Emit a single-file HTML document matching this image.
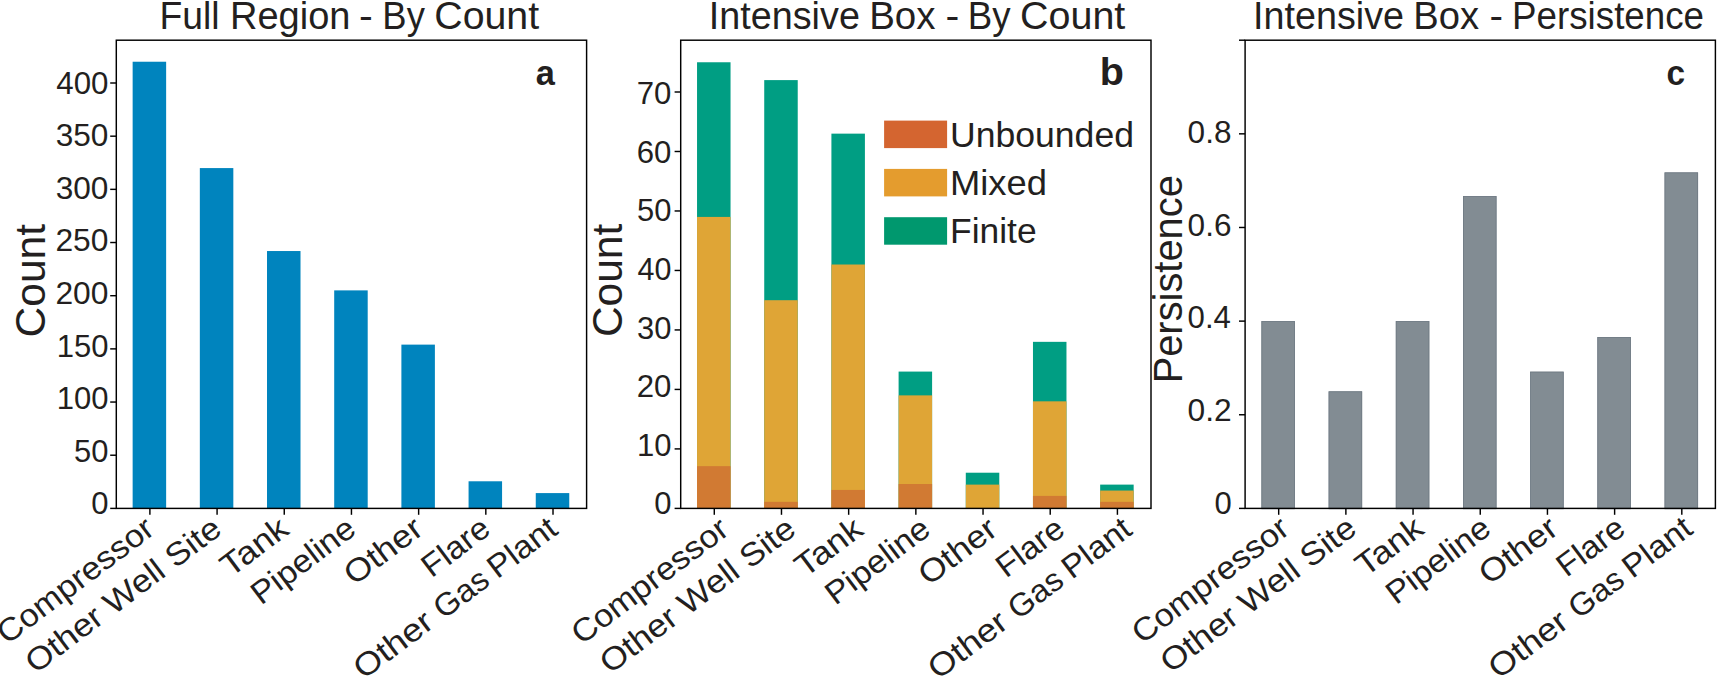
<!DOCTYPE html>
<html><head><meta charset="utf-8"><title>Figure</title>
<style>
html,body{margin:0;padding:0;background:#fff;}
body{width:1723px;height:677px;overflow:hidden;}
svg{display:block;}
svg text{font-family:"Liberation Sans", sans-serif;fill:#231f20;}
</style></head><body>
<svg width="1723" height="677" viewBox="0 0 1723 677">
<rect x="132.64" y="61.73" width="33.50" height="446.67" fill="#0084be"/>
<rect x="199.83" y="168.08" width="33.50" height="340.32" fill="#0084be"/>
<rect x="267.01" y="251.03" width="33.50" height="257.37" fill="#0084be"/>
<rect x="334.20" y="290.38" width="33.50" height="218.02" fill="#0084be"/>
<rect x="401.39" y="344.62" width="33.50" height="163.78" fill="#0084be"/>
<rect x="468.57" y="481.28" width="33.50" height="27.12" fill="#0084be"/>
<rect x="535.76" y="493.09" width="33.50" height="15.31" fill="#0084be"/>
<rect x="697.04" y="62.26" width="33.50" height="446.14" fill="#009e83"/>
<rect x="697.04" y="216.92" width="33.50" height="291.48" fill="#dfa536"/>
<rect x="697.04" y="466.16" width="33.50" height="42.24" fill="#d17a33"/>
<rect x="764.23" y="80.10" width="33.50" height="428.30" fill="#009e83"/>
<rect x="764.23" y="300.20" width="33.50" height="208.20" fill="#dfa536"/>
<rect x="764.23" y="501.85" width="33.50" height="6.55" fill="#d17a33"/>
<rect x="831.41" y="133.64" width="33.50" height="374.76" fill="#009e83"/>
<rect x="831.41" y="264.51" width="33.50" height="243.89" fill="#dfa536"/>
<rect x="831.41" y="489.95" width="33.50" height="18.45" fill="#d17a33"/>
<rect x="898.60" y="371.58" width="33.50" height="136.82" fill="#009e83"/>
<rect x="898.60" y="395.38" width="33.50" height="113.02" fill="#dfa536"/>
<rect x="898.60" y="484.01" width="33.50" height="24.39" fill="#d17a33"/>
<rect x="965.79" y="472.71" width="33.50" height="35.69" fill="#009e83"/>
<rect x="965.79" y="484.61" width="33.50" height="23.79" fill="#dfa536"/>
<rect x="1032.97" y="341.84" width="33.50" height="166.56" fill="#009e83"/>
<rect x="1032.97" y="401.33" width="33.50" height="107.07" fill="#dfa536"/>
<rect x="1032.97" y="495.90" width="33.50" height="12.50" fill="#d17a33"/>
<rect x="1100.16" y="484.61" width="33.50" height="23.79" fill="#009e83"/>
<rect x="1100.16" y="490.55" width="33.50" height="17.85" fill="#dfa536"/>
<rect x="1100.16" y="501.85" width="33.50" height="6.55" fill="#d17a33"/>
<rect x="1261.44" y="321.12" width="33.50" height="187.28" fill="#828c93"/>
<rect x="1261.84" y="321.52" width="32.70" height="187.28" fill="none" stroke="#6f7a84" stroke-width="0.8"/>
<rect x="1328.63" y="391.35" width="33.50" height="117.05" fill="#828c93"/>
<rect x="1329.03" y="391.75" width="32.70" height="117.05" fill="none" stroke="#6f7a84" stroke-width="0.8"/>
<rect x="1395.81" y="321.12" width="33.50" height="187.28" fill="#828c93"/>
<rect x="1396.21" y="321.52" width="32.70" height="187.28" fill="none" stroke="#6f7a84" stroke-width="0.8"/>
<rect x="1463.00" y="196.11" width="33.50" height="312.29" fill="#828c93"/>
<rect x="1463.40" y="196.51" width="32.70" height="312.29" fill="none" stroke="#6f7a84" stroke-width="0.8"/>
<rect x="1530.19" y="371.69" width="33.50" height="136.71" fill="#828c93"/>
<rect x="1530.59" y="372.09" width="32.70" height="136.71" fill="none" stroke="#6f7a84" stroke-width="0.8"/>
<rect x="1597.37" y="337.04" width="33.50" height="171.36" fill="#828c93"/>
<rect x="1597.77" y="337.44" width="32.70" height="171.36" fill="none" stroke="#6f7a84" stroke-width="0.8"/>
<rect x="1664.56" y="172.42" width="33.50" height="335.98" fill="#828c93"/>
<rect x="1664.96" y="172.82" width="32.70" height="335.98" fill="none" stroke="#6f7a84" stroke-width="0.8"/>
<rect x="116.30" y="40.20" width="470.30" height="468.20" fill="none" stroke="#000" stroke-width="1.45"/>
<line x1="149.89" y1="508.40" x2="149.89" y2="514.80" stroke="#000" stroke-width="1.45"/>
<line x1="217.08" y1="508.40" x2="217.08" y2="514.80" stroke="#000" stroke-width="1.45"/>
<line x1="284.26" y1="508.40" x2="284.26" y2="514.80" stroke="#000" stroke-width="1.45"/>
<line x1="351.45" y1="508.40" x2="351.45" y2="514.80" stroke="#000" stroke-width="1.45"/>
<line x1="418.64" y1="508.40" x2="418.64" y2="514.80" stroke="#000" stroke-width="1.45"/>
<line x1="485.82" y1="508.40" x2="485.82" y2="514.80" stroke="#000" stroke-width="1.45"/>
<line x1="553.01" y1="508.40" x2="553.01" y2="514.80" stroke="#000" stroke-width="1.45"/>
<rect x="680.70" y="40.20" width="470.30" height="468.20" fill="none" stroke="#000" stroke-width="1.45"/>
<line x1="714.29" y1="508.40" x2="714.29" y2="514.80" stroke="#000" stroke-width="1.45"/>
<line x1="781.48" y1="508.40" x2="781.48" y2="514.80" stroke="#000" stroke-width="1.45"/>
<line x1="848.66" y1="508.40" x2="848.66" y2="514.80" stroke="#000" stroke-width="1.45"/>
<line x1="915.85" y1="508.40" x2="915.85" y2="514.80" stroke="#000" stroke-width="1.45"/>
<line x1="983.04" y1="508.40" x2="983.04" y2="514.80" stroke="#000" stroke-width="1.45"/>
<line x1="1050.22" y1="508.40" x2="1050.22" y2="514.80" stroke="#000" stroke-width="1.45"/>
<line x1="1117.41" y1="508.40" x2="1117.41" y2="514.80" stroke="#000" stroke-width="1.45"/>
<rect x="1245.10" y="40.20" width="470.30" height="468.20" fill="none" stroke="#000" stroke-width="1.45"/>
<line x1="1278.69" y1="508.40" x2="1278.69" y2="514.80" stroke="#000" stroke-width="1.45"/>
<line x1="1345.88" y1="508.40" x2="1345.88" y2="514.80" stroke="#000" stroke-width="1.45"/>
<line x1="1413.06" y1="508.40" x2="1413.06" y2="514.80" stroke="#000" stroke-width="1.45"/>
<line x1="1480.25" y1="508.40" x2="1480.25" y2="514.80" stroke="#000" stroke-width="1.45"/>
<line x1="1547.44" y1="508.40" x2="1547.44" y2="514.80" stroke="#000" stroke-width="1.45"/>
<line x1="1614.62" y1="508.40" x2="1614.62" y2="514.80" stroke="#000" stroke-width="1.45"/>
<line x1="1681.81" y1="508.40" x2="1681.81" y2="514.80" stroke="#000" stroke-width="1.45"/>
<line x1="110.20" y1="508.40" x2="116.30" y2="508.40" stroke="#000" stroke-width="1.45"/>
<line x1="110.20" y1="455.22" x2="116.30" y2="455.22" stroke="#000" stroke-width="1.45"/>
<line x1="110.20" y1="402.05" x2="116.30" y2="402.05" stroke="#000" stroke-width="1.45"/>
<line x1="110.20" y1="348.88" x2="116.30" y2="348.88" stroke="#000" stroke-width="1.45"/>
<line x1="110.20" y1="295.70" x2="116.30" y2="295.70" stroke="#000" stroke-width="1.45"/>
<line x1="110.20" y1="242.52" x2="116.30" y2="242.52" stroke="#000" stroke-width="1.45"/>
<line x1="110.20" y1="189.35" x2="116.30" y2="189.35" stroke="#000" stroke-width="1.45"/>
<line x1="110.20" y1="136.18" x2="116.30" y2="136.18" stroke="#000" stroke-width="1.45"/>
<line x1="110.20" y1="83.00" x2="116.30" y2="83.00" stroke="#000" stroke-width="1.45"/>
<line x1="674.60" y1="508.40" x2="680.70" y2="508.40" stroke="#000" stroke-width="1.45"/>
<line x1="674.60" y1="448.91" x2="680.70" y2="448.91" stroke="#000" stroke-width="1.45"/>
<line x1="674.60" y1="389.43" x2="680.70" y2="389.43" stroke="#000" stroke-width="1.45"/>
<line x1="674.60" y1="329.94" x2="680.70" y2="329.94" stroke="#000" stroke-width="1.45"/>
<line x1="674.60" y1="270.46" x2="680.70" y2="270.46" stroke="#000" stroke-width="1.45"/>
<line x1="674.60" y1="210.97" x2="680.70" y2="210.97" stroke="#000" stroke-width="1.45"/>
<line x1="674.60" y1="151.49" x2="680.70" y2="151.49" stroke="#000" stroke-width="1.45"/>
<line x1="674.60" y1="92.00" x2="680.70" y2="92.00" stroke="#000" stroke-width="1.45"/>
<line x1="1239.00" y1="508.40" x2="1245.10" y2="508.40" stroke="#000" stroke-width="1.45"/>
<line x1="1239.00" y1="414.76" x2="1245.10" y2="414.76" stroke="#000" stroke-width="1.45"/>
<line x1="1239.00" y1="321.12" x2="1245.10" y2="321.12" stroke="#000" stroke-width="1.45"/>
<line x1="1239.00" y1="227.48" x2="1245.10" y2="227.48" stroke="#000" stroke-width="1.45"/>
<line x1="1239.00" y1="133.84" x2="1245.10" y2="133.84" stroke="#000" stroke-width="1.45"/>
<line x1="1239.00" y1="40.20" x2="1245.10" y2="40.20" stroke="#000" stroke-width="1.45"/>
<rect x="884.10" y="120.60" width="63.00" height="27.50" fill="#d46530"/>
<rect x="884.10" y="168.90" width="63.00" height="27.50" fill="#e49c2e"/>
<rect x="884.10" y="217.20" width="63.00" height="27.50" fill="#00986e"/>
<text x="91.20" y="514.35" font-size="31">0</text>
<text x="74.05" y="461.75" font-size="31" textLength="34.38" lengthAdjust="spacingAndGlyphs">50</text>
<text x="56.70" y="409.15" font-size="31">100</text>
<text x="56.70" y="356.55" font-size="31">150</text>
<text x="55.46" y="303.95" font-size="31" textLength="53.00" lengthAdjust="spacingAndGlyphs">200</text>
<text x="55.46" y="251.35" font-size="31" textLength="53.00" lengthAdjust="spacingAndGlyphs">250</text>
<text x="55.73" y="198.75" font-size="31" textLength="52.73" lengthAdjust="spacingAndGlyphs">300</text>
<text x="55.73" y="146.15" font-size="31" textLength="52.73" lengthAdjust="spacingAndGlyphs">350</text>
<text x="56.24" y="93.55" font-size="31" textLength="52.20" lengthAdjust="spacingAndGlyphs">400</text>
<text x="654.20" y="514.35" font-size="31">0</text>
<text x="636.95" y="455.75" font-size="31">10</text>
<text x="636.79" y="397.15" font-size="31" textLength="34.65" lengthAdjust="spacingAndGlyphs">20</text>
<text x="637.05" y="338.55" font-size="31" textLength="34.38" lengthAdjust="spacingAndGlyphs">30</text>
<text x="637.56" y="279.95" font-size="31" textLength="33.85" lengthAdjust="spacingAndGlyphs">40</text>
<text x="637.05" y="221.35" font-size="31" textLength="34.38" lengthAdjust="spacingAndGlyphs">50</text>
<text x="636.79" y="162.75" font-size="31" textLength="34.65" lengthAdjust="spacingAndGlyphs">60</text>
<text x="636.79" y="104.15" font-size="31" textLength="34.65" lengthAdjust="spacingAndGlyphs">70</text>
<text x="1214.40" y="513.75" font-size="31">0</text>
<text x="1187.62" y="421.10" font-size="31" textLength="44.13" lengthAdjust="spacingAndGlyphs">0.2</text>
<text x="1187.64" y="328.45" font-size="31" textLength="43.32" lengthAdjust="spacingAndGlyphs">0.4</text>
<text x="1187.63" y="235.80" font-size="31" textLength="43.85" lengthAdjust="spacingAndGlyphs">0.6</text>
<text x="1187.63" y="143.15" font-size="31" textLength="43.85" lengthAdjust="spacingAndGlyphs">0.8</text>
<text x="159.39" y="29.30" font-size="39" textLength="60.09" lengthAdjust="spacingAndGlyphs">Full</text>
<text x="230.03" y="29.30" font-size="39" textLength="120.50" lengthAdjust="spacingAndGlyphs">Region</text>
<text x="359.14" y="29.30" font-size="39" textLength="13.82" lengthAdjust="spacingAndGlyphs">-</text>
<text x="382.37" y="29.30" font-size="39" textLength="42.48" lengthAdjust="spacingAndGlyphs">By</text>
<text x="434.29" y="29.30" font-size="39" textLength="104.85" lengthAdjust="spacingAndGlyphs">Count</text>
<text x="708.81" y="29.30" font-size="39" textLength="151.09" lengthAdjust="spacingAndGlyphs">Intensive</text>
<text x="869.19" y="29.30" font-size="39" textLength="66.36" lengthAdjust="spacingAndGlyphs">Box</text>
<text x="945.44" y="29.30" font-size="39" textLength="13.82" lengthAdjust="spacingAndGlyphs">-</text>
<text x="967.74" y="29.30" font-size="39" textLength="42.81" lengthAdjust="spacingAndGlyphs">By</text>
<text x="1020.08" y="29.30" font-size="39" textLength="105.25" lengthAdjust="spacingAndGlyphs">Count</text>
<text x="1253.11" y="29.30" font-size="39" textLength="150.98" lengthAdjust="spacingAndGlyphs">Intensive</text>
<text x="1413.22" y="29.30" font-size="39" textLength="65.83" lengthAdjust="spacingAndGlyphs">Box</text>
<text x="1489.48" y="29.30" font-size="39" textLength="13.55" lengthAdjust="spacingAndGlyphs">-</text>
<text x="1512.04" y="29.30" font-size="39" textLength="192.03" lengthAdjust="spacingAndGlyphs">Persistence</text>
<text x="535.82" y="85.40" font-size="35" font-weight="bold" textLength="19.11" lengthAdjust="spacingAndGlyphs">a</text>
<text x="1099.70" y="85.40" font-size="38" font-weight="bold" textLength="24.12" lengthAdjust="spacingAndGlyphs">b</text>
<text x="1666.40" y="85.40" font-size="35" font-weight="bold" textLength="18.62" lengthAdjust="spacingAndGlyphs">c</text>
<text x="45.00" y="337.42" font-size="43" transform="rotate(-90 45.00 337.42)" textLength="113.37" lengthAdjust="spacingAndGlyphs">Count</text>
<text x="622.50" y="337.12" font-size="43" transform="rotate(-90 622.50 337.12)" textLength="113.37" lengthAdjust="spacingAndGlyphs">Count</text>
<text x="1182.20" y="383.36" font-size="41" transform="rotate(-90 1182.20 383.36)" textLength="208.23" lengthAdjust="spacingAndGlyphs">Persistence</text>
<text x="950.00" y="146.70" font-size="35" textLength="183.98" lengthAdjust="spacingAndGlyphs">Unbounded</text>
<text x="949.94" y="195.00" font-size="35" textLength="97.03" lengthAdjust="spacingAndGlyphs">Mixed</text>
<text x="950.02" y="243.30" font-size="35" textLength="86.59" lengthAdjust="spacingAndGlyphs">Finite</text>
<text x="156.39" y="532.70" font-size="32" text-anchor="end" transform="rotate(-37 156.39 532.70)" textLength="187.00" lengthAdjust="spacingAndGlyphs">Compressor</text>
<text x="223.58" y="532.70" font-size="32" text-anchor="end" transform="rotate(-37 223.58 532.70)" textLength="235.50" lengthAdjust="spacingAndGlyphs">Other Well Site</text>
<text x="290.76" y="532.70" font-size="32" text-anchor="end" transform="rotate(-37 290.76 532.70)" textLength="75.30" lengthAdjust="spacingAndGlyphs">Tank</text>
<text x="357.95" y="532.70" font-size="32" text-anchor="end" transform="rotate(-37 357.95 532.70)" textLength="121.50" lengthAdjust="spacingAndGlyphs">Pipeline</text>
<text x="425.14" y="532.70" font-size="32" text-anchor="end" transform="rotate(-37 425.14 532.70)" textLength="89.00" lengthAdjust="spacingAndGlyphs">Other</text>
<text x="492.32" y="532.70" font-size="32" text-anchor="end" transform="rotate(-37 492.32 532.70)" textLength="76.00" lengthAdjust="spacingAndGlyphs">Flare</text>
<g transform="translate(559.51 532.70) rotate(-37)">
<text x="-245.30" y="0" font-size="32" textLength="90.10" lengthAdjust="spacingAndGlyphs">Other</text>
<text x="-145.20" y="0" font-size="32" textLength="60.00" lengthAdjust="spacingAndGlyphs">Gas</text>
<text x="-77.98" y="0" font-size="32" textLength="77.98" lengthAdjust="spacingAndGlyphs">Plant</text>
</g>
<text x="730.79" y="533.00" font-size="32" text-anchor="end" transform="rotate(-37 730.79 533.00)" textLength="187.00" lengthAdjust="spacingAndGlyphs">Compressor</text>
<text x="797.98" y="533.00" font-size="32" text-anchor="end" transform="rotate(-37 797.98 533.00)" textLength="235.50" lengthAdjust="spacingAndGlyphs">Other Well Site</text>
<text x="865.16" y="533.00" font-size="32" text-anchor="end" transform="rotate(-37 865.16 533.00)" textLength="75.30" lengthAdjust="spacingAndGlyphs">Tank</text>
<text x="932.35" y="533.00" font-size="32" text-anchor="end" transform="rotate(-37 932.35 533.00)" textLength="121.50" lengthAdjust="spacingAndGlyphs">Pipeline</text>
<text x="999.54" y="533.00" font-size="32" text-anchor="end" transform="rotate(-37 999.54 533.00)" textLength="89.00" lengthAdjust="spacingAndGlyphs">Other</text>
<text x="1066.72" y="533.00" font-size="32" text-anchor="end" transform="rotate(-37 1066.72 533.00)" textLength="76.00" lengthAdjust="spacingAndGlyphs">Flare</text>
<g transform="translate(1133.91 533.00) rotate(-37)">
<text x="-245.30" y="0" font-size="32" textLength="90.10" lengthAdjust="spacingAndGlyphs">Other</text>
<text x="-145.20" y="0" font-size="32" textLength="60.00" lengthAdjust="spacingAndGlyphs">Gas</text>
<text x="-77.98" y="0" font-size="32" textLength="77.98" lengthAdjust="spacingAndGlyphs">Plant</text>
</g>
<text x="1291.39" y="532.30" font-size="32" text-anchor="end" transform="rotate(-37 1291.39 532.30)" textLength="187.00" lengthAdjust="spacingAndGlyphs">Compressor</text>
<text x="1358.58" y="532.30" font-size="32" text-anchor="end" transform="rotate(-37 1358.58 532.30)" textLength="235.50" lengthAdjust="spacingAndGlyphs">Other Well Site</text>
<text x="1425.76" y="532.30" font-size="32" text-anchor="end" transform="rotate(-37 1425.76 532.30)" textLength="75.30" lengthAdjust="spacingAndGlyphs">Tank</text>
<text x="1492.95" y="532.30" font-size="32" text-anchor="end" transform="rotate(-37 1492.95 532.30)" textLength="121.50" lengthAdjust="spacingAndGlyphs">Pipeline</text>
<text x="1560.14" y="532.30" font-size="32" text-anchor="end" transform="rotate(-37 1560.14 532.30)" textLength="89.00" lengthAdjust="spacingAndGlyphs">Other</text>
<text x="1627.32" y="532.30" font-size="32" text-anchor="end" transform="rotate(-37 1627.32 532.30)" textLength="76.00" lengthAdjust="spacingAndGlyphs">Flare</text>
<g transform="translate(1694.51 532.30) rotate(-37)">
<text x="-245.30" y="0" font-size="32" textLength="90.10" lengthAdjust="spacingAndGlyphs">Other</text>
<text x="-145.20" y="0" font-size="32" textLength="60.00" lengthAdjust="spacingAndGlyphs">Gas</text>
<text x="-77.98" y="0" font-size="32" textLength="77.98" lengthAdjust="spacingAndGlyphs">Plant</text>
</g>
</svg>
</body></html>
